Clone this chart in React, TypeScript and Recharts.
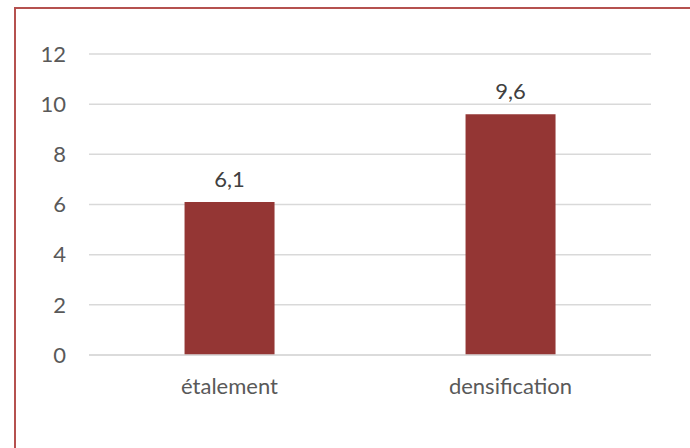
import { BarChart, Bar, XAxis, YAxis, CartesianGrid, LabelList } from 'recharts';

const categories = ['étalement', 'densification'];
const values = [6.1, 9.6];
const yTicks = [0, 2, 4, 6, 8, 10, 12];

const chartData = categories.map((name, i) => ({ name, value: values[i] }));

const font = 'Lato, "Noto Sans", sans-serif';

const toComma = (v: number | string) => String(v).replace('.', ',');

export default function App() {
  return (
    <div style={{ position: 'fixed', left: 0, top: 0, width: 690, height: 448, overflow: 'hidden', background: '#fff' }}>
      {/* frame around the chart area, runs past the right and bottom edges */}
      <div
        style={{
          position: 'absolute',
          left: 14,
          top: 7,
          width: 720,
          height: 480,
          border: '2px solid #b5514f',
          boxSizing: 'border-box',
        }}
      />
      <div style={{ position: 'absolute', left: 0, top: 0 }}>
        <BarChart
          width={690}
          height={448}
          data={chartData}
          margin={{ top: 54, right: 39, left: 0, bottom: 0 }}
          barCategoryGap="34%"
        >
          <CartesianGrid vertical={false} stroke="#d9d9d9" strokeWidth={1.5} />
          <XAxis
            dataKey="name"
            axisLine={{ stroke: '#d9d9d9', strokeWidth: 1.5 }}
            tickLine={false}
            tickMargin={17}
            tick={{ fill: '#595959', fontSize: 22, fontFamily: font }}
            height={93}
          />
          <YAxis
            domain={[0, 12]}
            ticks={yTicks}
            axisLine={false}
            tickLine={false}
            tickMargin={17}
            width={89}
            tick={{ fill: '#595959', fontSize: 22, fontFamily: font }}
          />
          <Bar dataKey="value" fill="#943634" isAnimationActive={false}>
            <LabelList
              dataKey="value"
              position="top"
              offset={15}
              formatter={toComma}
              style={{ fill: '#404040', fontSize: 22, fontFamily: font }}
            />
          </Bar>
        </BarChart>
      </div>
    </div>
  );
}
